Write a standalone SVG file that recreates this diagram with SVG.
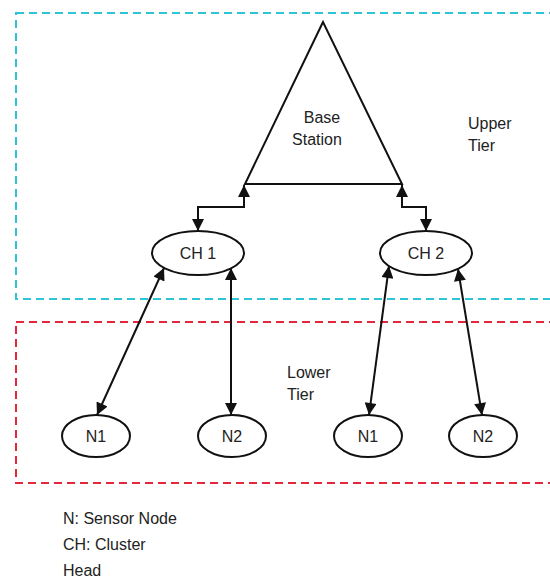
<svg xmlns="http://www.w3.org/2000/svg" width="550" height="579" viewBox="0 0 550 579">
<style>
.shape{fill:#fff;stroke:#111;stroke-width:2}
.conn{fill:none;stroke:#111;stroke-width:2;marker-start:url(#ah);marker-end:url(#ah)}
.lbl{font-family:"Liberation Sans",Arial,sans-serif;font-size:16px;fill:#222}
.mid{text-anchor:middle}
.tier{fill:none;stroke-width:2;stroke-dasharray:8 5}
</style>
<defs>
<marker id="ah" viewBox="0 0 10 10" refX="10" refY="5" markerWidth="14" markerHeight="12" markerUnits="userSpaceOnUse" orient="auto-start-reverse">
<path d="M0,0 L10,5 L0,10 Z" fill="#111"/>
</marker>
</defs>
<rect width="550" height="579" fill="#fff"/>
<g id="upper-tier">
<rect class="tier" x="16" y="13" width="560" height="286" stroke="#2ec4d6"/>
<text class="lbl" x="468" y="129">Upper</text>
<text class="lbl" x="468" y="151">Tier</text>
</g>
<g id="lower-tier">
<rect class="tier" x="16" y="322" width="560" height="161" stroke="#e3283e"/>
<text class="lbl" x="287" y="378">Lower</text>
<text class="lbl" x="287" y="400">Tier</text>
</g>
<g id="connectors">
<path class="conn" d="M244,185 L244,207 L198,207 L198,231"/>
<path class="conn" d="M402,185 L402,207 L426,207 L426,231"/>
<line class="conn" x1="164" y1="268" x2="97" y2="415"/>
<line class="conn" x1="231" y1="268" x2="231" y2="415"/>
<line class="conn" x1="389" y1="266" x2="369" y2="415"/>
<line class="conn" x1="458" y1="269" x2="482" y2="415"/>
</g>
<g id="base-station">
<polygon class="shape" points="323,22 245,184 402,184"/>
<text class="lbl mid" x="322" y="123">Base</text>
<text class="lbl mid" x="317" y="145">Station</text>
</g>
<g id="ch1">
<ellipse class="shape" cx="198" cy="253" rx="46" ry="22"/>
<text class="lbl mid" x="198" y="259">CH 1</text>
</g>
<g id="ch2">
<ellipse class="shape" cx="426" cy="253" rx="46" ry="22"/>
<text class="lbl mid" x="426" y="259">CH 2</text>
</g>
<g id="n1a">
<ellipse class="shape" cx="96" cy="436" rx="34" ry="21"/>
<text class="lbl mid" x="96" y="442">N1</text>
</g>
<g id="n2a">
<ellipse class="shape" cx="232" cy="436" rx="34" ry="21"/>
<text class="lbl mid" x="232" y="442">N2</text>
</g>
<g id="n1b">
<ellipse class="shape" cx="368" cy="436" rx="34" ry="21"/>
<text class="lbl mid" x="368" y="442">N1</text>
</g>
<g id="n2b">
<ellipse class="shape" cx="483" cy="436" rx="34" ry="21"/>
<text class="lbl mid" x="483" y="442">N2</text>
</g>
<g id="legend">
<text class="lbl" x="63" y="524">N: Sensor Node</text>
<text class="lbl" x="63" y="550">CH: Cluster</text>
<text class="lbl" x="63" y="576">Head</text>
</g>
</svg>
